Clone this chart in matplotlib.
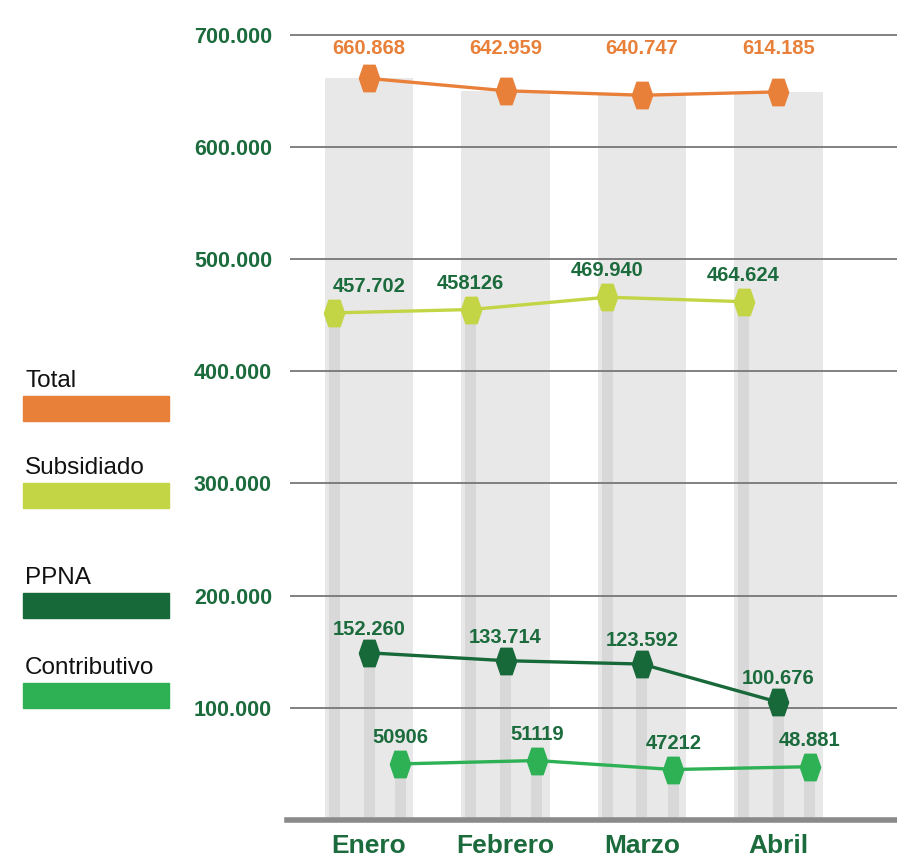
import matplotlib
matplotlib.use("Agg")
import matplotlib.pyplot as plt
from matplotlib.patches import Rectangle
from matplotlib import font_manager

# ---------------- data ----------------
months = ["Enero", "Febrero", "Marzo", "Abril"]
series_names = ["Total", "Subsidiado", "PPNA", "Contributivo"]

# plotted positions (as drawn in the picture)
total_vals = [661000, 650000, 646000, 649000]
subs_vals = [452000, 455000, 466000, 462000]
ppna_vals = [149000, 142000, 139000, 105000]
contrib_vals = [50000, 53000, 45000, 47500]

# printed labels
total_labels = ["660.868", "642.959", "640.747", "614.185"]
subs_labels = ["457.702", "458126", "469.940", "464.624"]
ppna_labels = ["152.260", "133.714", "123.592", "100.676"]
contrib_labels = ["50906", "51119", "47212", "48.881"]

yticks = [100000, 200000, 300000, 400000, 500000, 600000, 700000]
ytick_labels = ["100.000", "200.000", "300.000", "400.000", "500.000", "600.000", "700.000"]

# ---------------- style ----------------
C_TOTAL = "#E8803A"
C_SUBS = "#C3D545"
C_PPNA = "#17693A"
C_CONTRIB = "#2DB154"
C_TEXT = "#1B6B3D"

names = {f.name for f in font_manager.fontManager.ttflist}
narrow = "Liberation Sans Narrow" if "Liberation Sans Narrow" in names else "Liberation Sans"

fig = plt.figure(figsize=(8.97, 8.65), dpi=100)
ax = fig.add_axes([290 / 897, 45 / 865, 607 / 897, 819 / 865])
ax.set_xlim(-0.58, 3.87)
ax.set_ylim(0, 730000)

x = list(range(len(months)))
off_subs, off_contrib = -0.255, 0.23
thin_w = 0.08

# wide background bars (height = total)
ax.bar(x, total_vals, width=0.65, color="#E8E8E8", zorder=1)
# thin columns under each marker
ax.bar([i + off_subs for i in x], subs_vals, width=thin_w, color="#D8D8D8", zorder=1.2)
ax.bar(x, ppna_vals, width=thin_w, color="#D8D8D8", zorder=1.2)
ax.bar([i + off_contrib for i in x], contrib_vals, width=thin_w, color="#D8D8D8", zorder=1.2)

# gridlines
for t in yticks:
    ax.axhline(t, color="#777777", lw=1.3, zorder=2)
ax.axhline(0, color="#8A8A8A", lw=4, zorder=2, xmin=-0.005, clip_on=False)

# hexagon marker (elongated vertically, pointed left/right)
hexm = [(-1, 0), (-0.55, 1.3), (0.55, 1.3), (1, 0), (0.55, -1.3), (-0.55, -1.3), (-1, 0)]

def draw_series(xs, vals, color):
    ax.plot(xs, vals, color=color, lw=2.4, marker=hexm, markersize=19,
            markerfacecolor=color, markeredgecolor=color, zorder=4, clip_on=False)

draw_series(x, total_vals, C_TOTAL)
draw_series([i + off_subs for i in x], subs_vals, C_SUBS)
draw_series(x, ppna_vals, C_PPNA)
draw_series([i + off_contrib for i in x], contrib_vals, C_CONTRIB)

lab_font = dict(family=[narrow, "DejaVu Sans"], fontweight="bold", fontsize=14.5)

# Total labels on a fixed row
for i, lab in enumerate(total_labels):
    ax.text(i, 688000, lab, ha="center", va="center", color=C_TOTAL, zorder=5, **lab_font)

def label_series(xs, vals, labels, dxs, dy=18):
    for xi, v, lab, dx in zip(xs, vals, labels, dxs):
        ax.annotate(lab, (xi, v), xytext=(dx, dy), textcoords="offset points",
                    ha="center", va="center", color=C_TEXT, zorder=5, **lab_font)

label_series([i + off_subs for i in x], subs_vals, subs_labels, [25, 0, 0, 0], 19)
label_series(x, ppna_vals, ppna_labels, [0, 0, 0, 0], 17)
label_series([i + off_contrib for i in x], contrib_vals, contrib_labels, [0, 0, 0, 0], 19)

# axes styling
for s in ax.spines.values():
    s.set_visible(False)
ax.set_yticks(yticks)
ax.set_yticklabels(ytick_labels, family=["Liberation Sans", "DejaVu Sans"],
                   fontweight="bold", fontsize=15.5, color=C_TEXT)
ax.tick_params(axis="y", length=0, pad=13)
ax.set_xticks(x)
ax.set_xticklabels(months, family=[narrow, "DejaVu Sans"], fontweight="bold",
                   fontsize=19, color=C_TEXT)
ax.tick_params(axis="x", length=0, pad=10)

# legend on the left
leg_colors = [C_TOTAL, C_SUBS, C_PPNA, C_CONTRIB]
leg_rect_top = [396, 483, 593, 683]
for name, col, top in zip(series_names, leg_colors, leg_rect_top):
    fig.patches.append(Rectangle((23 / 897, 1 - (top + 25) / 865), 146 / 897, 25 / 865,
                                 transform=fig.transFigure, color=col))
    fig.text(25 / 897, 1 - (top - 4) / 865, name, ha="left", va="bottom",
             family=["Liberation Sans", "DejaVu Sans"], fontsize=17.5, color="#111111")

fig.savefig("out.png", dpi=100)
